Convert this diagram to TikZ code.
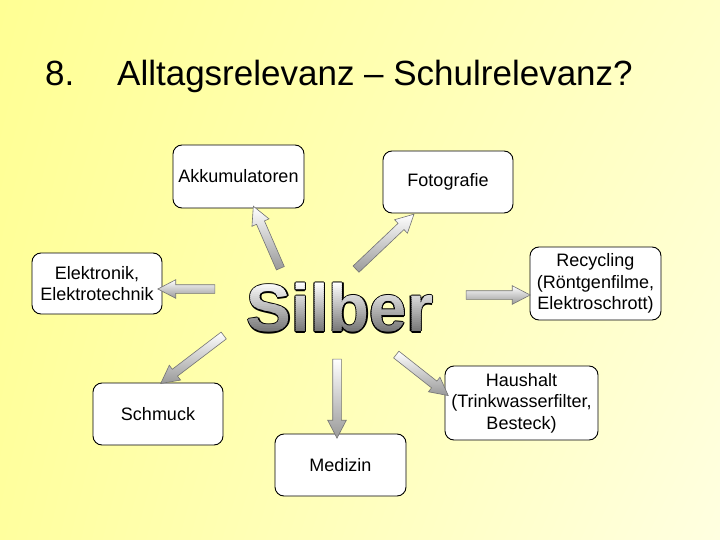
\documentclass[tikz,border=0pt]{standalone}
\usepackage{fontspec}
\setmainfont{Liberation Sans}
\usetikzlibrary{shapes.arrows, calc, shadings}

\newcommand{\boxfont}{\fontsize{18}{21.5}\selectfont}
\newcommand{\silberfont}{\fontsize{67}{67}\selectfont\bfseries}

% block arrow from tail to tip
\newcommand{\silberpfeil}[2]{%
  \path let \p1=(#1), \p2=(#2),
    \n1={atan2(\y2-\y1,\x2-\x1)}, \n2={veclen(\x2-\x1,\y2-\y1)} in
    node[blockarrow, rotate=\n1, minimum height=\n2] at ($(\p1)!0.5!(\p2)$) {};}

\begin{document}
\begin{tikzpicture}[
    x=1pt, y=-1pt,
    box/.style={draw, rectangle, rounded corners=9pt, line width=0.9pt,
      fill=white, align=center, font=\boxfont, inner sep=2pt},
    blockarrow/.style={single arrow, draw=black!55, line width=0.6pt,
      top color=white, bottom color=black!40, minimum width=18pt,
      single arrow head extend=5pt, single arrow tip angle=55,
      inner xsep=0pt, inner ysep=4pt},
    silbertext/.style={font=\silberfont, inner sep=0pt, text=black}
]
\shade[upper left=yellow!42, lower left=yellow!38, upper right=yellow!22,
  lower right=yellow!12] (0,0) rectangle (720,540);
\useasboundingbox (0,0) rectangle (720,540);

\node[anchor=base west, inner sep=0pt, font=\fontsize{35}{35}\selectfont] (nummer) at (45,86) {8.};
\node[anchor=base west, inner sep=0pt, font=\fontsize{35}{35}\selectfont] (titel) at (117,86) {Alltagsrelevanz -- Schulrelevanz?};

\node[box, minimum width=131pt, minimum height=63pt] (akku) at (238.5,176.5) {Akkumulatoren};
\node[box, minimum width=130pt, minimum height=62pt] (foto) at (448,182) {Fotografie};
\node[box, minimum width=131pt, minimum height=73pt] (recycling) at (595.5,283.5) {Recycling\\(Röntgenfilme,\\Elektroschrott)};
\node[box, minimum width=130pt, minimum height=61pt] (elektronik) at (97,283.5) {Elektronik,\\Elektrotechnik};
\node[box, minimum width=130pt, minimum height=62pt] (schmuck) at (158,414) {Schmuck};
\node[box, minimum width=131pt, minimum height=62pt] (medizin) at (340.5,465) {Medizin};
\node[box, minimum width=153pt, minimum height=74pt] (haushalt) at (521.5,403) {Haushalt\\(Trinkwasserfilter,\\Besteck)};

% Silber: black outline, then grey gradient in strips
\node[silbertext] (silber) at (340,308) {Silber};
\foreach \w in {0,45,...,315}
  \node[silbertext] at ($(silber)+(\w:1.2pt)$) {Silber};
\foreach \i in {0,...,26} {
  \pgfmathsetmacro\grau{58*\i/26}
  \begin{scope}
    \clip ($(silber.north west)+(-4,\i*2-1)$) rectangle ($(silber.north east)+(4,\i*2+1.1)$);
    \node[silbertext, text=black!\grau] at (silber) {Silber};
  \end{scope}
}

\coordinate (akkuA) at (282,272);      \coordinate (akkuB) at (255,210);
\coordinate (fotoA) at (353,272);      \coordinate (fotoB) at (411,217);
\coordinate (recyclingA) at (462,295); \coordinate (recyclingB) at (526,295);
\coordinate (elektronikA) at (219,289); \coordinate (elektronikB) at (162,289);
\coordinate (schmuckA) at (227,333);   \coordinate (schmuckB) at (164,381);
\coordinate (medizinA) at (337,355);   \coordinate (medizinB) at (337,434);
\coordinate (haushaltA) at (393,352);  \coordinate (haushaltB) at (445,393);

\silberpfeil{akkuA}{akkuB}
\silberpfeil{fotoA}{fotoB}
\silberpfeil{recyclingA}{recyclingB}
\silberpfeil{elektronikA}{elektronikB}
\silberpfeil{schmuckA}{schmuckB}
\silberpfeil{medizinA}{medizinB}
\silberpfeil{haushaltA}{haushaltB}
\end{tikzpicture}
\end{document}
